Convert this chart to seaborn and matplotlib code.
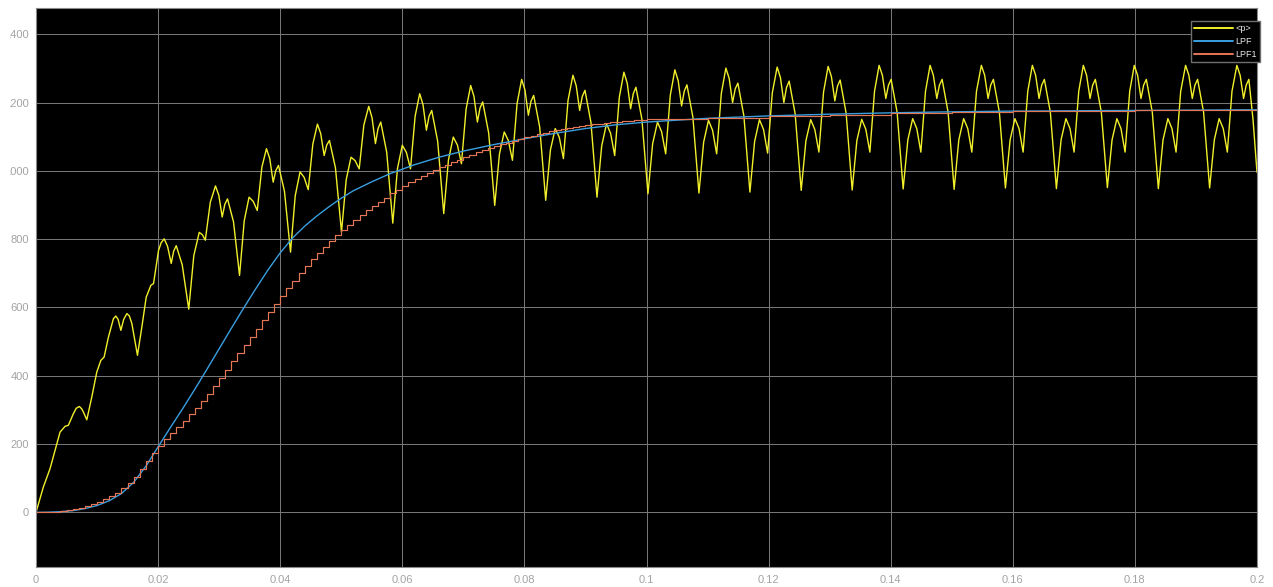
import matplotlib
matplotlib.use("Agg")
import matplotlib.pyplot as plt
import pandas as pd
import seaborn as sns
from matplotlib.transforms import Bbox, TransformedBbox

# ---------------------------------------------------------------------------
# Instantaneous power <p> (time in ms, power in W)
# start-up part before the ripple settles into its 6-point pattern
p_start_ms = [0.00, 1.20, 2.30, 3.12, 3.94, 4.76, 5.30, 6.12, 6.60, 7.10, 7.50, 7.76,
              8.32, 9.14, 9.96, 10.62, 11.16, 11.86, 12.68, 13.08, 13.45, 13.90, 14.36,
              14.88, 15.30, 15.70, 16.62, 17.34, 18.05, 18.82, 19.25, 20.07, 20.51]
p_start_w = [0, 74, 128, 182, 235, 252, 255, 289, 305, 310, 303, 294,
             271, 338, 411, 445, 455, 513, 567, 575, 565, 533, 565,
             582, 575, 553, 460, 543, 630, 665, 670, 767, 790]

# one row per ripple cycle: peak, fall, notch, rise, 2nd peak, fall, dip, rise, bump, fall, notch, rise
p_cycles_ms = [
    [21.00, 21.55, 22.15, 22.55, 22.97, 23.95, 25.02, 25.85, 26.74, 27.25, 27.73, 28.55],
    [29.40, 29.94, 30.50, 30.93, 31.37, 32.35, 33.34, 34.11, 34.90, 35.57, 36.24, 37.00],
    [37.75, 38.29, 38.85, 39.28, 39.72, 40.70, 41.69, 42.46, 43.25, 43.92, 44.59, 45.35],
    [46.10, 46.64, 47.20, 47.63, 48.07, 49.05, 50.04, 50.81, 51.60, 52.27, 52.94, 53.70],
    [54.50, 55.04, 55.60, 56.03, 56.47, 57.45, 58.44, 59.21, 60.00, 60.67, 61.34, 62.10],
    [62.85, 63.39, 63.95, 64.38, 64.82, 65.80, 66.79, 67.56, 68.35, 69.02, 69.69, 70.45],
    [71.20, 71.74, 72.30, 72.73, 73.17, 74.15, 75.14, 75.91, 76.70, 77.37, 78.04, 78.80],
    [79.55, 80.09, 80.65, 81.08, 81.52, 82.50, 83.49, 84.26, 85.05, 85.72, 86.39, 87.15],
    [87.95, 88.49, 89.05, 89.48, 89.92, 90.90, 91.89, 92.66, 93.45, 94.12, 94.79, 95.55],
    [96.30, 96.84, 97.40, 97.83, 98.27, 99.25, 100.24, 101.01, 101.80, 102.47, 103.14, 103.90],
    [104.65, 105.19, 105.75, 106.18, 106.62, 107.60, 108.59, 109.36, 110.15, 110.82, 111.49, 112.25],
    [113.00, 113.54, 114.10, 114.53, 114.97, 115.95, 116.94, 117.71, 118.50, 119.17, 119.84, 120.60],
    [121.40, 121.94, 122.50, 122.93, 123.37, 124.35, 125.34, 126.11, 126.90, 127.57, 128.24, 129.00],
    [129.75, 130.29, 130.85, 131.28, 131.72, 132.70, 133.69, 134.46, 135.25, 135.92, 136.59, 137.35],
    [138.10, 138.64, 139.20, 139.63, 140.07, 141.05, 142.04, 142.81, 143.60, 144.27, 144.94, 145.70],
    [146.45, 146.99, 147.55, 147.98, 148.42, 149.40, 150.39, 151.16, 151.95, 152.62, 153.29, 154.05],
    [154.85, 155.39, 155.95, 156.38, 156.82, 157.80, 158.79, 159.56, 160.35, 161.02, 161.69, 162.45],
    [163.20, 163.74, 164.30, 164.73, 165.17, 166.15, 167.14, 167.91, 168.70, 169.37, 170.04, 170.80],
    [171.55, 172.09, 172.65, 173.08, 173.52, 174.50, 175.49, 176.26, 177.05, 177.72, 178.39, 179.15],
    [179.90, 180.44, 181.00, 181.43, 181.87, 182.85, 183.84, 184.61, 185.40, 186.07, 186.74, 187.50],
    [188.30, 188.84, 189.40, 189.83, 190.27, 191.25, 192.24, 193.01, 193.80, 194.47, 195.14, 195.90],
]
p_cycles_w = [
    [801, 779, 729, 765, 781, 725, 595, 752, 820, 813, 797, 908],
    [956, 929, 865, 902, 918, 851, 694, 854, 923, 911, 884, 1011],
    [1065, 1036, 967, 1001, 1016, 940, 762, 927, 997, 981, 945, 1079],
    [1137, 1109, 1045, 1076, 1089, 1009, 821, 974, 1040, 1030, 1006, 1134],
    [1189, 1156, 1080, 1124, 1143, 1054, 847, 1007, 1075, 1054, 1006, 1160],
    [1226, 1194, 1119, 1160, 1177, 1086, 875, 1032, 1099, 1076, 1021, 1181],
    [1250, 1218, 1143, 1184, 1202, 1111, 899, 1049, 1114, 1089, 1031, 1197],
    [1268, 1237, 1163, 1204, 1221, 1129, 914, 1061, 1124, 1098, 1036, 1207],
    [1280, 1249, 1177, 1218, 1236, 1142, 923, 1073, 1138, 1110, 1045, 1216],
    [1289, 1257, 1182, 1226, 1245, 1151, 933, 1080, 1143, 1115, 1050, 1222],
    [1296, 1264, 1190, 1233, 1252, 1157, 935, 1084, 1148, 1119, 1050, 1226],
    [1301, 1271, 1200, 1240, 1257, 1161, 938, 1086, 1150, 1121, 1052, 1228],
    [1304, 1273, 1200, 1244, 1263, 1167, 943, 1088, 1150, 1121, 1055, 1231],
    [1306, 1276, 1205, 1248, 1266, 1169, 944, 1089, 1151, 1122, 1055, 1233],
    [1309, 1280, 1212, 1251, 1268, 1172, 947, 1091, 1153, 1124, 1055, 1233],
    [1309, 1280, 1212, 1251, 1268, 1172, 946, 1091, 1153, 1124, 1055, 1233],
    [1309, 1280, 1212, 1251, 1268, 1172, 950, 1091, 1153, 1124, 1055, 1233],
    [1309, 1280, 1212, 1251, 1268, 1172, 948, 1091, 1153, 1124, 1055, 1233],
    [1309, 1280, 1212, 1251, 1268, 1172, 951, 1091, 1153, 1124, 1055, 1233],
    [1309, 1280, 1212, 1251, 1268, 1172, 948, 1091, 1153, 1124, 1055, 1233],
    [1309, 1280, 1212, 1251, 1268, 1172, 950, 1091, 1153, 1124, 1055, 1233],
]
p_end_ms = [196.70, 197.24, 197.80, 198.23, 198.67, 199.35, 200.00]
p_end_w = [1309, 1280, 1212, 1251, 1268, 1150, 996]

# Continuous low-pass filter output (LPF)
lpf_ms = [0, 2, 4, 6, 8, 10, 12, 14, 16, 18, 20, 22, 24, 26, 28, 30, 32, 34, 36, 38,
          40, 42, 44, 46, 48, 50, 52, 55, 58, 62, 66, 70, 75, 80, 85, 90, 95, 100,
          110, 120, 130, 140, 150, 160, 180, 200]
lpf_w = [0, 0.5, 2, 5, 11, 20, 34, 55, 88, 135, 192, 248, 303, 360, 419, 479, 539, 598, 655, 710,
         760, 803, 838, 868, 895, 920, 942, 968, 992, 1018, 1040, 1058, 1077, 1094, 1110, 1124, 1135, 1143,
         1154, 1161, 1166, 1170, 1173, 1175, 1177, 1179]

# Sampled (1 ms) low-pass filter output (LPF1), held between samples
lpf1_ms = list(range(0, 101)) + [110, 120, 130, 140, 150, 160, 170, 180, 190, 200]
lpf1_w = [0, 0, 1, 2, 4, 7, 10, 14, 19, 24,
          30, 38, 48, 58, 70, 86, 105, 127, 150, 173,
          195, 215, 233, 250, 268, 287, 306, 325, 348, 371,
          394, 418, 442, 466, 490, 514, 538, 562, 586, 610,
          633, 656, 678, 700, 721, 741, 760, 778, 795, 811,
          826, 841, 856, 870, 884, 897, 910, 922, 934, 945,
          956, 966, 976, 985, 994, 1002, 1010, 1018, 1025, 1032,
          1040, 1047, 1054, 1060, 1066, 1072, 1078, 1083, 1088, 1093,
          1098, 1103, 1108, 1112, 1116, 1119, 1122, 1125, 1128, 1131,
          1134, 1136, 1138, 1140, 1142, 1144, 1145, 1147, 1148, 1150,
          1151,
          1156, 1161, 1165, 1169, 1172, 1174, 1176, 1177, 1178, 1179]

series_names = ["<p>", "LPF", "LPF1"]
series_colors = ["#f2f02a", "#3a9fe0", "#e57655"]

x_ticks = [0, 0.02, 0.04, 0.06, 0.08, 0.1, 0.12, 0.14, 0.16, 0.18, 0.2]
x_tick_labels = ["0", "0.02", "0.04", "0.06", "0.08", "0.1", "0.12", "0.14", "0.16", "0.18", "0.2"]
y_ticks = [0, 200, 400, 600, 800, 1000, 1200, 1400]
y_tick_labels = ["0", "200", "400", "600", "800", "1000", "1200", "1400"]

# ---------------------------------------------------------------------------
p_ms = list(p_start_ms) + [t for row in p_cycles_ms for t in row] + list(p_end_ms)
p_w = list(p_start_w) + [v for row in p_cycles_w for v in row] + list(p_end_w)

power = pd.DataFrame({"t": [t / 1000 for t in p_ms], "p": p_w})
lpf = pd.DataFrame({"t": [t / 1000 for t in lpf_ms], "p": lpf_w})
lpf1 = pd.DataFrame({"t": [t / 1000 for t in lpf1_ms], "p": lpf1_w})

sns.set_theme(style="dark")
plt.rcParams["font.family"] = ["Liberation Sans", "DejaVu Sans"]

W, H = 1273, 587
fig = plt.figure(figsize=(W / 100, H / 100), dpi=100, facecolor="white")
ax = fig.add_axes([36 / W, 20 / H, 1221 / W, 559 / H])
ax.set_facecolor("black")

sns.lineplot(data=power, x="t", y="p", ax=ax, color=series_colors[0], lw=1.0,
             estimator=None, sort=False, label=series_names[0])
sns.lineplot(data=lpf, x="t", y="p", ax=ax, color=series_colors[1], lw=1.0,
             estimator=None, sort=False, label=series_names[1])
sns.lineplot(data=lpf1, x="t", y="p", ax=ax, color=series_colors[2], lw=0.85,
             estimator=None, sort=False, drawstyle="steps-post", label=series_names[2])

ax.set_xlim(0, 0.2)
ax.set_ylim(-160, 1477)
ax.set_xticks(x_ticks)
ax.set_xticklabels(x_tick_labels)
ax.set_yticks(y_ticks)
ax.set_yticklabels(y_tick_labels)
ax.set_xlabel("")
ax.set_ylabel("")
ax.grid(True, color="#7a7a7a", lw=0.7)
ax.tick_params(axis="both", length=0, labelsize=8, labelcolor="#a3a3a3")
ax.tick_params(axis="y", pad=5)
ax.tick_params(axis="x", pad=6)
for s in ax.spines.values():
    s.set_color("#8a8a8a")
    s.set_linewidth(0.8)

# the scope panel cuts the y labels a few pixels in from the left border
clip = TransformedBbox(Bbox.from_extents(9.5 / W, 0, 1, 1), fig.transFigure)
for lbl in ax.get_yticklabels():
    lbl.set_clip_box(clip)
    lbl.set_clip_on(True)

leg = ax.legend(loc="upper right", bbox_to_anchor=(1260 / W, 1 - 20.5 / H),
                bbox_transform=fig.transFigure, borderaxespad=0, fontsize=6.5,
                frameon=True, fancybox=False, facecolor="black", edgecolor="#6e6e6e",
                framealpha=1, handlelength=4.3, handletextpad=0.25, borderpad=0.35,
                labelspacing=0.45)
for txt in leg.get_texts():
    txt.set_color("#e6e6e6")
for line in leg.get_lines():
    line.set_linewidth(1.4)

fig.savefig("out.png", dpi=100, facecolor="white")
